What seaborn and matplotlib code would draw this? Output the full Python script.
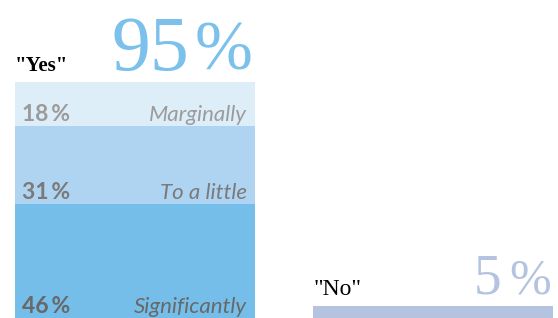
import numpy as np
import matplotlib
matplotlib.use("Agg")
import matplotlib.pyplot as plt
import pandas as pd
import seaborn as sns

# answers and totals
answers = ["Yes", "No"]
totals = [95, 5]

# breakdown of the "Yes" answers (top to bottom)
levels = ["Marginally", "To a little", "Significantly"]
level_values = [18, 31, 46]

seg_colors = ["#DDEEF9", "#AFD4F1", "#75BEEA"]
text_colors = ["#9B9B9B", "#7A7A7A", "#686868"]
no_color = "#B3C3E0"
big_colors = ["#7BC1EB", "#B3C3E0"]

sns.set_style("white")

fig = plt.figure(figsize=(5.58, 3.18), dpi=100)
ax = fig.add_axes([0, 0, 1, 1])

bar_w = 0.805

# stacked "Yes" bar: draw cumulative heights from the bottom segment up
cum = np.cumsum(level_values[::-1])[::-1]  # heights of each layer top
for lev, h, col in zip(levels, cum, seg_colors):
    df = pd.DataFrame({"answer": ["Yes"], "value": [h]})
    sns.barplot(data=df, x="answer", y="value", order=answers, color=col,
                width=bar_w, saturation=1, ax=ax, errorbar=None,
                linewidth=0, edgecolor="none")

# "No" bar
df_no = pd.DataFrame({"answer": ["No"], "value": [totals[1]]})
sns.barplot(data=df_no, x="answer", y="value", order=answers, color=no_color,
            width=bar_w, saturation=1, ax=ax, errorbar=None,
            linewidth=0, edgecolor="none")

ax.set_xlim(-0.453, 1.4195)
ax.set_ylim(0, 127.8)
ax.axis("off")

thin = "\u2009"

# segment labels
bottoms = list(cum[1:]) + [0]
for lev, val, b, tc in zip(levels, level_values, bottoms, text_colors):
    ax.annotate(f"{val}{thin}%", xy=(-bar_w / 2, b), xytext=(7, 5),
                textcoords="offset pixels", ha="left", va="baseline",
                fontsize=16.5, fontweight="bold", color=tc, family="Lato")
    ax.annotate(lev, xy=(bar_w / 2, b), xytext=(-8, 5),
                textcoords="offset pixels", ha="right", va="baseline",
                fontsize=16, style="italic", color=tc, family="Lato")

# answer names and big totals (number and % sign set apart a little)
weights = ["bold", "normal"]
name_sizes = [15, 17]
big_sizes = [56, 40]
pct_sizes = [50, 36]
num_shift = [-66, -52]
for i, (ans, tot) in enumerate(zip(answers, totals)):
    ax.annotate(f'"{ans}"', xy=(i - bar_w / 2, tot), xytext=(0, 11),
                textcoords="offset pixels", ha="left", va="baseline",
                fontsize=name_sizes[i], fontweight=weights[i], color="black",
                family="Liberation Serif")
    ax.annotate("%", xy=(i + bar_w / 2, tot), xytext=(-2, 12),
                textcoords="offset pixels", ha="right", va="baseline",
                fontsize=pct_sizes[i], color=big_colors[i],
                family="Liberation Serif")
    ax.annotate(f"{tot}", xy=(i + bar_w / 2, tot), xytext=(num_shift[i], 12),
                textcoords="offset pixels", ha="right", va="baseline",
                fontsize=big_sizes[i], color=big_colors[i],
                family="Liberation Serif")

plt.savefig("out.png", dpi=100)
